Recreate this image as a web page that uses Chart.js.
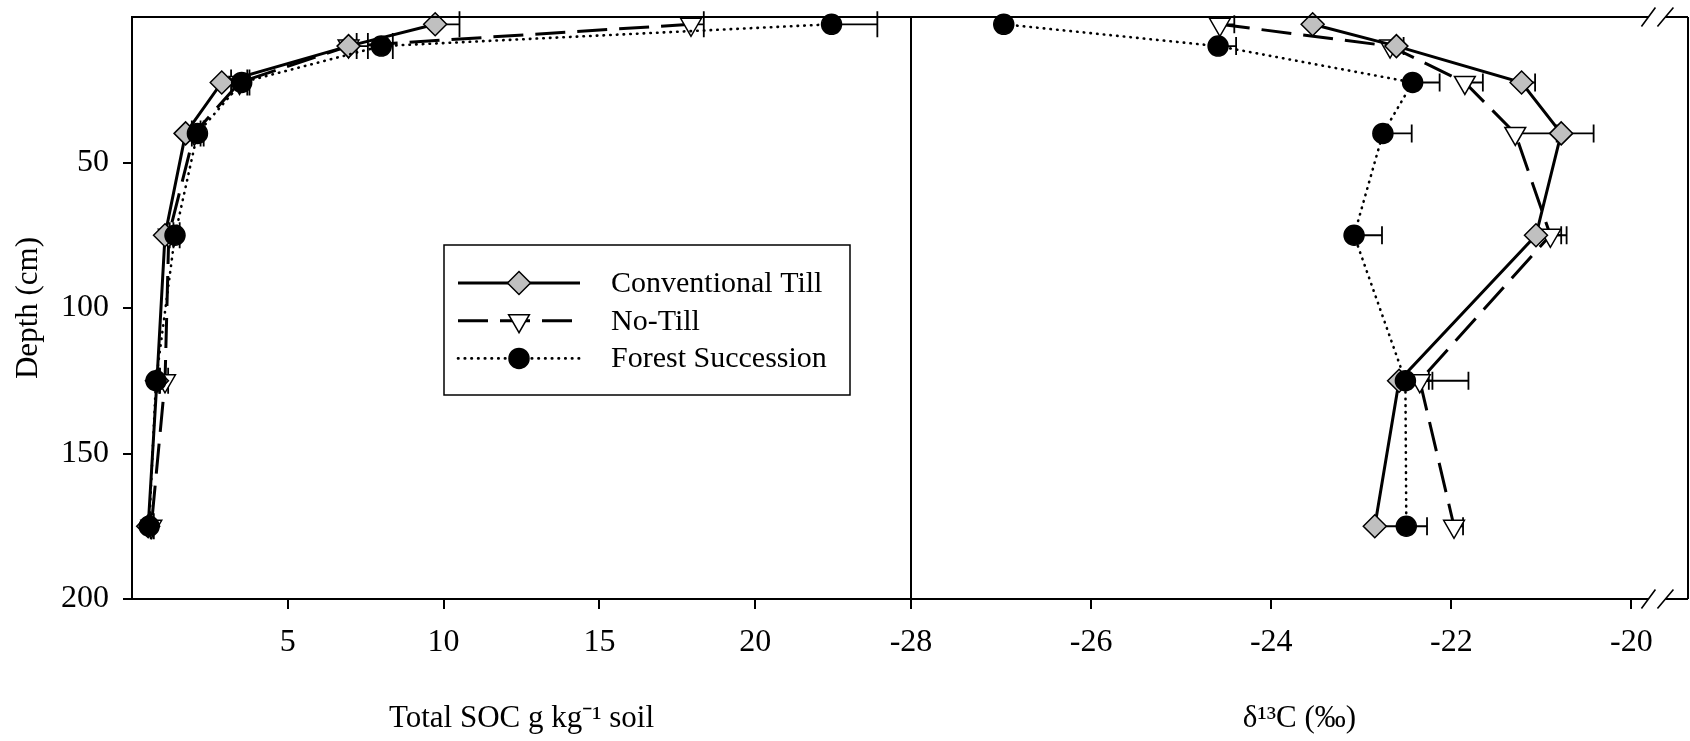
<!DOCTYPE html>
<html>
<head>
<meta charset="utf-8">
<script src="https://cdn.jsdelivr.net/npm/chart.js@4.4.1/dist/chart.umd.min.js"></script>
<style>
  html, body { margin: 0; padding: 0; background: #ffffff; }
  #wrap { position: relative; width: 1690px; height: 741px; overflow: hidden; }
  #left { position: absolute; left: 0; top: 0; }
  #right { position: absolute; left: 861px; top: 0; }
</style>
</head>
<body>
<div id="wrap">
  <canvas id="left" width="911" height="741"></canvas>
  <canvas id="right" width="829" height="741"></canvas>
</div>
<script>
// ---------------- data ----------------
const seriesNames = ['Conventional Till', 'No-Till', 'Forest Succession'];
const depthCm = [2.5, 10, 22.5, 40, 75, 125, 175];

// Total SOC (g kg-1 soil)
const socCT = [9.73, 6.95, 2.88, 1.72, 1.06, 0.80, 0.52];
const socNT = [17.94, 6.95, 3.45, 2.00, 1.18, 1.06, 0.62];
const socFS = [22.45, 8.00, 3.52, 2.10, 1.38, 0.77, 0.55];
const socErrCT = [0.78, 0.26, 0.30, 0.20, 0.15, 0.10, 0.08];
const socErrNT = [0.41, 0.62, 0.25, 0.20, 0.15, 0.10, 0.08];
const socErrFS = [1.47, 0.37, 0.25, 0.20, 0.15, 0.10, 0.08];

// delta 13C (per mil)
const d13cCT = [-23.54, -22.61, -21.22, -20.78, -21.06, -22.58, -22.85];
const d13cNT = [-24.57, -22.68, -21.85, -21.29, -20.90, -22.35, -21.97];
const d13cFS = [-26.97, -24.59, -22.43, -22.76, -23.08, -22.51, -22.50];
const d13cErrCT = [0.00, 0.08, 0.15, 0.36, 0.28, 0.33, 0.30];
const d13cErrNT = [0.16, 0.08, 0.20, 0.46, 0.18, 0.54, 0.10];
const d13cErrFS = [0.00, 0.20, 0.30, 0.32, 0.31, 0.30, 0.23];

const depthTicks = [50, 100, 150, 200];
const socTicks = [5, 10, 15, 20];
const d13cTicks = [-28, -26, -24, -22, -20];
const d13cBreak = -19.717;

// ---------------- styles ----------------
const FONT = 'Liberation Serif';
Chart.defaults.font.family = FONT;
Chart.defaults.color = '#000';

const seriesStyles = [
  { pointStyle: 'rectRot', radius: 11.5, rotation: 0, bg: '#c0c0c0', dash: [], width: 3, cap: 'butt', order: 1 },
  { pointStyle: 'triangle', radius: 12, rotation: 180, bg: '#ffffff', dash: [30, 12], width: 3, cap: 'butt', order: 2 },
  { pointStyle: 'circle', radius: 10, rotation: 0, bg: '#000000', dash: [0.5, 6.2], width: 2.6, cap: 'round', order: 0 }
];

function makeDatasets(valArrays, errArrays) {
  return seriesNames.map((name, i) => {
    const st = seriesStyles[i];
    return {
      label: name,
      data: depthCm.map((d, j) => ({ x: valArrays[i][j], y: d })),
      errors: errArrays[i],
      showLine: true,
      borderColor: '#000',
      borderWidth: st.width,
      borderDash: st.dash,
      borderCapStyle: st.cap,
      pointStyle: st.pointStyle,
      pointRadius: st.radius,
      pointRotation: st.rotation,
      pointBackgroundColor: st.bg,
      pointBorderColor: '#000',
      pointBorderWidth: 1.5,
      tension: 0,
      clip: false,
      order: st.order
    };
  });
}

const errorBarPlugin = {
  id: 'errorBars',
  beforeDatasetsDraw(chart, args, opts) {
    const ctx = chart.ctx, xs = chart.scales.x, ys = chart.scales.y;
    ctx.save();
    ctx.strokeStyle = '#000';
    ctx.lineWidth = opts.lineWidth;
    ctx.setLineDash([]);
    chart.data.datasets.forEach(ds => {
      ds.data.forEach((p, j) => {
        const e = ds.errors[j];
        if (!e) return;
        const x0 = xs.getPixelForValue(p.x);
        const x1 = xs.getPixelForValue(p.x + e);
        const y = ys.getPixelForValue(p.y);
        ctx.beginPath();
        ctx.moveTo(x0, y); ctx.lineTo(x1, y);
        ctx.moveTo(x1, y - opts.capHalf); ctx.lineTo(x1, y + opts.capHalf);
        ctx.stroke();
      });
    });
    ctx.restore();
  }
};

const leftFramePlugin = {
  id: 'leftFrame',
  afterDraw(chart) {
    const { left, right, top, bottom } = chart.chartArea;
    const ctx = chart.ctx;
    ctx.save();
    ctx.strokeStyle = '#000';
    ctx.lineWidth = 2;
    ctx.strokeRect(left, top, right - left, bottom - top);
    ctx.restore();
  }
};

const legendBoxPlugin = {
  id: 'legendBox',
  afterDraw(chart, args, opts) {
    const ctx = chart.ctx;
    const { x, y, w, h, rowGap, firstRow } = opts;
    ctx.save();
    ctx.fillStyle = '#fff';
    ctx.fillRect(x, y, w, h);
    ctx.strokeStyle = '#000';
    ctx.lineWidth = 1.5;
    ctx.strokeRect(x, y, w, h);
    chart.data.datasets.forEach((ds, i) => {
      const cy = y + firstRow + i * rowGap;
      ctx.save();
      ctx.strokeStyle = '#000';
      ctx.lineWidth = ds.borderWidth;
      ctx.lineCap = ds.borderCapStyle;
      ctx.setLineDash(ds.borderDash);
      ctx.beginPath();
      ctx.moveTo(x + 14, cy);
      ctx.lineTo(x + 136, cy);
      ctx.stroke();
      ctx.restore();
      ctx.save();
      ctx.setLineDash([]);
      ctx.fillStyle = ds.pointBackgroundColor;
      ctx.strokeStyle = '#000';
      ctx.lineWidth = ds.pointBorderWidth;
      Chart.helpers.drawPoint(ctx, {
        pointStyle: ds.pointStyle, rotation: ds.pointRotation,
        radius: ds.pointRadius, borderWidth: ds.pointBorderWidth
      }, x + 75, cy);
      ctx.restore();
      ctx.fillStyle = '#000';
      ctx.font = '30px "' + FONT + '"';
      ctx.textBaseline = 'middle';
      ctx.textAlign = 'left';
      ctx.fillText(ds.label, x + 167, cy + 1);
    });
    ctx.restore();
  }
};

const rightFramePlugin = {
  id: 'rightFrame',
  afterDraw(chart) {
    const { left, right, top, bottom } = chart.chartArea;
    const ctx = chart.ctx;
    const bx = chart.scales.x.getPixelForValue(d13cBreak);
    ctx.save();
    ctx.strokeStyle = '#000';
    ctx.lineWidth = 2;
    ctx.beginPath();
    [top, bottom].forEach(yy => {
      ctx.moveTo(left, yy); ctx.lineTo(bx - 8.5, yy);
      ctx.moveTo(bx + 8.5, yy); ctx.lineTo(right, yy);
    });
    ctx.moveTo(left, top); ctx.lineTo(left, bottom);
    ctx.moveTo(right, top); ctx.lineTo(right, bottom);
    ctx.stroke();
    ctx.lineWidth = 1.6;
    ctx.beginPath();
    [top, bottom].forEach(yy => {
      ctx.moveTo(bx - 15.5, yy + 9.5); ctx.lineTo(bx - 1.5, yy - 9.5);
      ctx.moveTo(bx + 0.5, yy + 9.5); ctx.lineTo(bx + 16.5, yy - 9.5);
    });
    ctx.stroke();
    ctx.restore();
  }
};

function fixX(h) {
  return function (s) { s.height = h; s.paddingLeft = 0; s.paddingRight = 0; s.paddingTop = 0; s.paddingBottom = 0; };
}
const tickFont = { family: FONT, size: 32 };
const titleFont = { family: FONT, size: 31 };
const gridCfg = { display: true, drawOnChartArea: false, drawTicks: true, tickLength: 10, color: '#000', lineWidth: 2 };

// ---------------- left chart: total SOC ----------------
new Chart(document.getElementById('left'), {
  type: 'scatter',
  data: { datasets: makeDatasets([socCT, socNT, socFS], [socErrCT, socErrNT, socErrFS]) },
  options: {
    responsive: false, animation: false, devicePixelRatio: 1, events: [],
    layout: { autoPadding: false, padding: { left: 0, top: 17, right: 0, bottom: 0 } },
    plugins: {
      legend: { display: false }, tooltip: { enabled: false },
      errorBars: { capHalf: 13, lineWidth: 1.8 },
      legendBox: { x: 444, y: 245, w: 406, h: 150, firstRow: 38, rowGap: 37.7 }
    },
    scales: {
      x: {
        type: 'linear', position: 'bottom', min: 0, max: 25,
        afterBuildTicks: s => { s.ticks = socTicks.map(v => ({ value: v })); },
        afterFit: fixX(142),
        ticks: { font: tickFont, color: '#000', padding: 14, maxRotation: 0 },
        grid: gridCfg,
        border: { display: true, color: '#000', width: 2 },
        title: { display: true, text: 'Total SOC g kg⁻¹ soil', font: titleFont, color: '#000', padding: { top: 0, bottom: 4 } }
      },
      y: {
        type: 'linear', position: 'left', min: 0, max: 200, reverse: true,
        afterBuildTicks: s => { s.ticks = depthTicks.map(v => ({ value: v })); },
        afterFit: s => { s.width = 132; s.paddingTop = 0; s.paddingBottom = 0; s.paddingLeft = 0; s.paddingRight = 0; },
        ticks: { font: tickFont, color: '#000', padding: 14 },
        grid: Object.assign({}, gridCfg, { tickLength: 9 }),
        border: { display: true, color: '#000', width: 2 },
        title: { display: true, text: 'Depth (cm)', font: titleFont, color: '#000', padding: { top: 10, bottom: 0 } }
      }
    }
  },
  plugins: [errorBarPlugin, leftFramePlugin, legendBoxPlugin]
});

// ---------------- right chart: delta 13C ----------------
new Chart(document.getElementById('right'), {
  type: 'scatter',
  data: { datasets: makeDatasets([d13cCT, d13cNT, d13cFS], [d13cErrCT, d13cErrNT, d13cErrFS]) },
  options: {
    responsive: false, animation: false, devicePixelRatio: 1, events: [],
    layout: { autoPadding: false, padding: { left: 50, top: 17, right: 2, bottom: 0 } },
    plugins: {
      legend: { display: false }, tooltip: { enabled: false },
      errorBars: { capHalf: 9, lineWidth: 1.8 }
    },
    scales: {
      x: {
        type: 'linear', position: 'bottom', min: -28, max: -19.372,
        afterBuildTicks: s => { s.ticks = d13cTicks.map(v => ({ value: v })); },
        afterFit: fixX(142),
        ticks: { font: tickFont, color: '#000', padding: 14, maxRotation: 0 },
        grid: gridCfg,
        border: { display: false },
        title: { display: true, text: 'δ¹³C (‰)', font: titleFont, color: '#000', padding: { top: 0, bottom: 4 } }
      },
      y: {
        type: 'linear', display: false, min: 0, max: 200, reverse: true
      }
    }
  },
  plugins: [errorBarPlugin, rightFramePlugin]
});
</script>
</body>
</html>
